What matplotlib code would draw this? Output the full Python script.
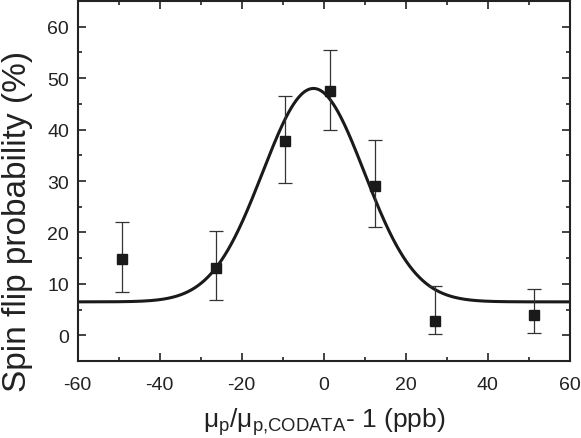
import numpy as np
import matplotlib
matplotlib.use('Agg')
import matplotlib.pyplot as plt
from matplotlib.ticker import MultipleLocator

plt.rcParams['font.family'] = ['Liberation Sans', 'DejaVu Sans']
plt.rcParams['mathtext.fontset'] = 'custom'
plt.rcParams['mathtext.rm'] = 'Liberation Sans'
plt.rcParams['mathtext.it'] = 'Liberation Sans'
plt.rcParams['axes.unicode_minus'] = False

# measured points (detuning in ppb, spin flip probability in %)
detuning = [-49.2, -26.3, -9.4, 1.5, 12.6, 27.1, 51.2]
probability = [14.9, 13.0, 37.8, 47.5, 29.0, 2.8, 4.0]
err_low = [6.4, 6.1, 8.1, 7.6, 8.0, 2.6, 3.5]
err_high = [7.1, 7.3, 8.7, 8.0, 9.0, 6.8, 5.0]

# gaussian fit parameters
fit_offset = 6.5
fit_amp = 41.5
fit_center = -2.5
fit_sigma = 12.4

fig = plt.figure(figsize=(5.81, 4.39), dpi=100)
ax = fig.add_axes([0.1334, 0.1754, 0.8476, 0.82])

xs = np.linspace(-60, 60, 600)
ys = fit_offset + fit_amp * np.exp(-(xs - fit_center) ** 2 / (2 * fit_sigma ** 2))
ax.plot(xs, ys, color='#1a1a1a', lw=2.2)

ax.errorbar(detuning, probability, yerr=[err_low, err_high], fmt='s',
            color='#1a1a1a', ms=7.5, ecolor='#333333', elinewidth=0.9,
            capsize=5, capthick=0.9)

ax.set_xlim(-60, 60)
ax.set_ylim(-5, 65)
ax.xaxis.set_major_locator(MultipleLocator(20))
ax.xaxis.set_minor_locator(MultipleLocator(10))
ax.yaxis.set_major_locator(MultipleLocator(10))
ax.yaxis.set_minor_locator(MultipleLocator(5))
ax.tick_params(which='both', direction='in', top=True, right=True,
               labeltop=False, labelright=False, width=1.2, labelsize=14,
               colors='#222222')
ax.tick_params(which='major', length=6)
ax.tick_params(which='minor', length=3)
ax.tick_params(axis='x', which='major', pad=11)
ax.tick_params(axis='y', which='major', pad=6)
for s in ax.spines.values():
    s.set_linewidth(1.5)
    s.set_color('#222222')

ax.set_ylabel('Spin flip probability (%)', fontsize=24, color='#222222')
ax.yaxis.set_label_coords(-0.09, 0.39)
ax.set_xlabel(r'$\mathrm{μ_{p}/μ_{p{,}CODATA}}$- 1 (ppb)', fontsize=19,
              color='#222222', labelpad=9)

fig.savefig('out.png', dpi=100)
